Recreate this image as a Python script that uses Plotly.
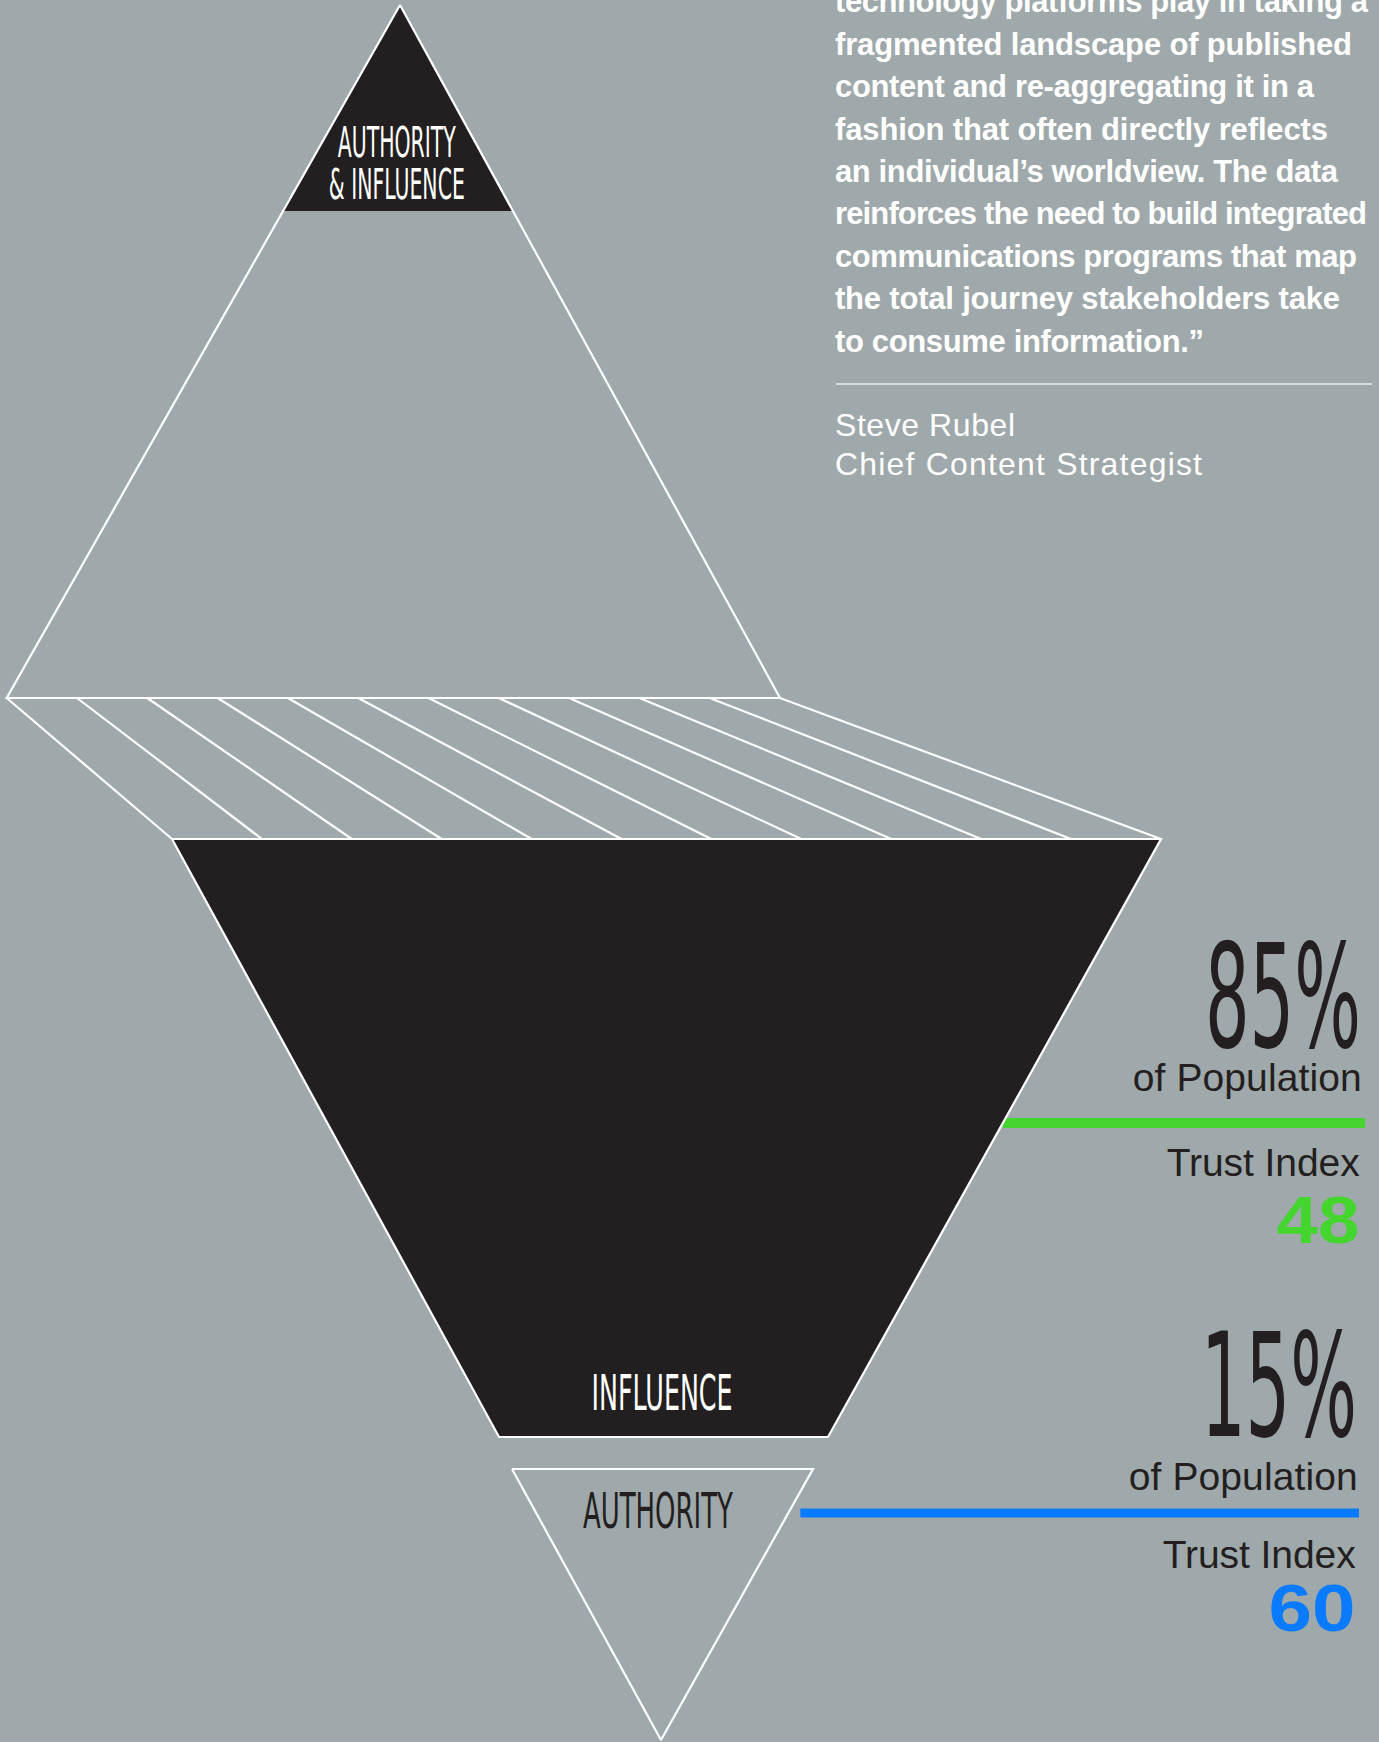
import json
import plotly.graph_objects as go

# ---------------------------------------------------------------- data
segments = ["Influence", "Authority"]
population_share = [85, 15]          # % of population
trust_index = [48, 60]
segment_colors = ["#44D62E", "#0A7BFF"]

quote_lines = [
    "technology platforms play in taking a",
    "fragmented landscape of published",
    "content and re-aggregating it in a",
    "fashion that often directly reflects",
    "an individual’s worldview. The data",
    "reinforces the need to build integrated",
    "communications programs that map",
    "the total journey stakeholders take",
    "to consume information.”",
]
author_lines = ["Steve Rubel", "Chief Content Strategist"]

# ---------------------------------------------------------------- style / layout
W, H = 1379, 1742
BG = "#9FA8AA"
INK = "#231F20"
WHITE = "#FFFFFF"
EDGE_W = 2.2

SANS = "Liberation Sans, Arial, Helvetica, sans-serif"
NARROW = "Liberation Sans Narrow, DejaVu Sans Condensed, Liberation Sans, sans-serif"

# diagram geometry (page pixels, y grows downward)
APEX = (400, 5)
TOP_BASE_Y, TOP_BASE_X = 698, (6.7, 780)
CAP_Y = 211                               # lower edge of the dark cap
HATCH_Y, HATCH_X = 839, (172, 1161)       # lower edge of the hatched slab
HATCH_STEPS = 11
FUNNEL_Y, FUNNEL_X = 1437, (499, 828)
AUTH_Y, AUTH_X = 1469, (512, 813)
AUTH_APEX = (661, 1740)

# right-hand stat blocks
STAT_RIGHT = [1363, 1359]
STAT_BAR_Y = [1123, 1513]
STAT_BAR_END = [1365, 1359]
STAT_BIG_BASE = [1047, 1436]
STAT_POP_BASE = [1091, 1490]
STAT_TRUST_BASE = [1176, 1568]
STAT_NUM_BASE = [1243, 1631]
STAT_NUM_W = [83, 87]

QUOTE_X = 833
QUOTE_BASE0, QUOTE_STEP = 12.6, 42.4
QUOTE_W = [533, 517, 479, 493, 503, 532, 522, 505, 369]


def lerp(a, b, t):
    return a + (b - a) * t


def edge_x(p, q, y):
    """x of segment p-q at height y"""
    return lerp(p[0], q[0], (y - p[1]) / (q[1] - p[1]))


fig = go.Figure()


def poly(xs, ys, fill=None, line_w=EDGE_W, line_c=WHITE, close=True):
    if close:
        xs, ys = list(xs) + [xs[0]], list(ys) + [ys[0]]
    fig.add_trace(go.Scatter(
        x=xs, y=ys, mode="lines",
        fill="toself" if fill else "none",
        fillcolor=fill,
        line=dict(color=line_c, width=line_w),
        hoverinfo="skip", showlegend=False,
    ))


# upper pyramid with its dark cap
bl = (TOP_BASE_X[0], TOP_BASE_Y)
br = (TOP_BASE_X[1], TOP_BASE_Y)
poly([APEX[0], edge_x(APEX, bl, CAP_Y), edge_x(APEX, br, CAP_Y)],
     [APEX[1], CAP_Y, CAP_Y], fill=INK, line_w=0, line_c=INK)
poly([APEX[0], bl[0], br[0]], [APEX[1], bl[1], br[1]])

# hatched slab between the pyramid and the funnel
poly([TOP_BASE_X[0], HATCH_X[0], HATCH_X[1], TOP_BASE_X[1]],
     [TOP_BASE_Y, HATCH_Y, HATCH_Y, TOP_BASE_Y])
hx, hy = [], []
for i in range(1, HATCH_STEPS):
    t = i / HATCH_STEPS
    hx += [lerp(*TOP_BASE_X, t), lerp(*HATCH_X, t), None]
    hy += [TOP_BASE_Y, HATCH_Y, None]
fig.add_trace(go.Scatter(x=hx, y=hy, mode="lines",
                         line=dict(color=WHITE, width=EDGE_W),
                         hoverinfo="skip", showlegend=False))

# stat bars run out from the funnel's right edge
f_tr = (HATCH_X[1], HATCH_Y)
f_br = (FUNNEL_X[1], FUNNEL_Y)
a_tr = (AUTH_X[1], AUTH_Y)
bar_start = [edge_x(f_tr, f_br, STAT_BAR_Y[0]),
             edge_x(a_tr, AUTH_APEX, STAT_BAR_Y[1]) + 12]
for k in range(len(segments)):
    fig.add_trace(go.Scatter(
        x=[bar_start[k], STAT_BAR_END[k]], y=[STAT_BAR_Y[k]] * 2, mode="lines",
        line=dict(color=segment_colors[k], width=10 if k == 0 else 9),
        hoverinfo="skip", showlegend=False))

# influence funnel and authority tip
poly([HATCH_X[0], HATCH_X[1], FUNNEL_X[1], FUNNEL_X[0]],
     [HATCH_Y, HATCH_Y, FUNNEL_Y, FUNNEL_Y], fill=INK)
poly([AUTH_X[0], AUTH_X[1], AUTH_APEX[0]], [AUTH_Y, AUTH_Y, AUTH_APEX[1]])

# ---------------------------------------------------------------- text
annotations = []
fits = {}


def add_text(text, x, baseline, size, color, family=SANS, anchor="center",
             width=None, mode="spacing", weight="normal"):
    # place the box so that the glyph baseline lands on `baseline`
    y = baseline - 0.3465 * size
    if width:
        fits[str(len(annotations))] = [width, mode]
    annotations.append(dict(
        text=text, x=x, y=y, xref="x", yref="y",
        xanchor=anchor, yanchor="middle", align=anchor,
        showarrow=False,
        font=dict(family=family, size=size, color=color, weight=weight),
    ))


# pyramid / funnel labels
add_text("AUTHORITY", 397, 156.7, 43, WHITE, NARROW, width=118, mode="spacingAndGlyphs")
add_text("& INFLUENCE", 397, 199, 43, WHITE, NARROW, width=136, mode="spacingAndGlyphs")
add_text(segments[0].upper(), 662, 1410, 50, WHITE, NARROW, width=141, mode="spacingAndGlyphs")
add_text(segments[1].upper(), 658, 1528, 50, INK, NARROW, width=150, mode="spacingAndGlyphs")

# stat blocks
for k in range(len(segments)):
    r = STAT_RIGHT[k]
    add_text(f"{population_share[k]}%", r, STAT_BIG_BASE[k], 145, INK, NARROW,
             anchor="right", width=156, mode="spacingAndGlyphs")
    add_text("of Population", r + 1, STAT_POP_BASE[k], 39, INK, anchor="right", width=229)
    add_text("Trust Index", r - 1, STAT_TRUST_BASE[k], 39, INK, anchor="right", width=193)
    add_text(str(trust_index[k]), r - 1, STAT_NUM_BASE[k], 67, segment_colors[k],
             anchor="right", width=STAT_NUM_W[k], mode="spacingAndGlyphs",
             weight="bold")

# quote
for i, line in enumerate(quote_lines):
    add_text(line, QUOTE_X, QUOTE_BASE0 + i * QUOTE_STEP, 31, WHITE,
             anchor="left", width=QUOTE_W[i], weight="bold")
fig.add_trace(go.Scatter(x=[836, 1372], y=[384, 384], mode="lines",
                         line=dict(color="#E8ECEC", width=1.5),
                         hoverinfo="skip", showlegend=False))
add_text(author_lines[0], QUOTE_X, 436, 32, WHITE, anchor="left", width=180)
add_text(author_lines[1], QUOTE_X, 475, 32, WHITE, anchor="left", width=367)

fig.update_layout(
    width=W, height=H,
    margin=dict(l=0, r=0, t=0, b=0),
    paper_bgcolor=BG, plot_bgcolor=BG,
    showlegend=False,
    annotations=annotations,
    xaxis=dict(range=[0, W], visible=False, fixedrange=True),
    yaxis=dict(range=[H, 0], visible=False, fixedrange=True),
)

# condense / track the type to its set widths
fit_js = """
var gd = document.getElementById('{plot_id}');
var fits = FITS;
function applyFits() {
  gd.querySelectorAll('g.annotation').forEach(function (g) {
    var f = fits[g.getAttribute('data-index')];
    var t = g.querySelector('text.annotation-text');
    if (f && t) {
      t.setAttribute('textLength', f[0]);
      t.setAttribute('lengthAdjust', f[1]);
    }
  });
}
applyFits();
if (gd.on) { gd.on('plotly_afterplot', applyFits); }
""".replace("FITS", json.dumps(fits))

fig.write_html("out.html", config={"displayModeBar": False}, post_script=fit_js)
